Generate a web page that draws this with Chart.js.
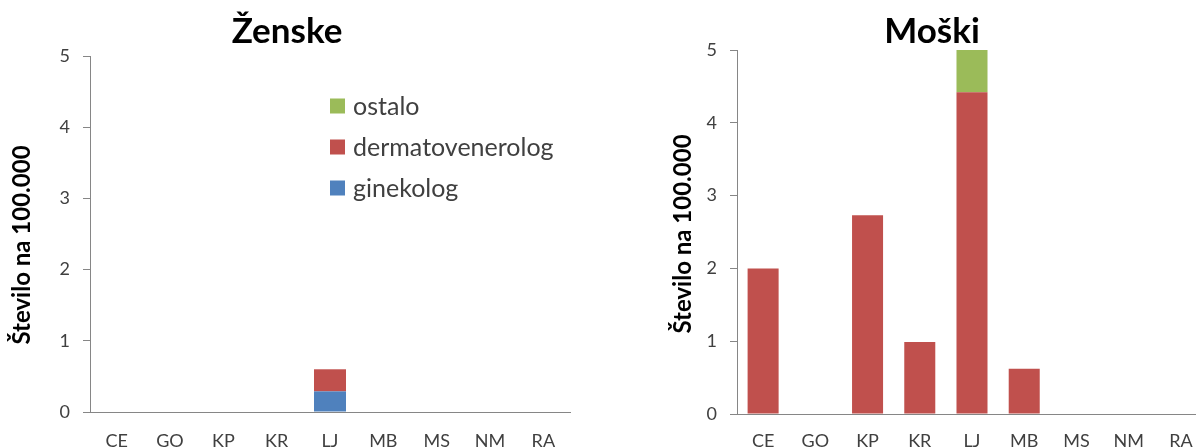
<!DOCTYPE html>
<html>
<head>
<meta charset="utf-8">
<script src="https://cdn.jsdelivr.net/npm/chart.js@4/dist/chart.umd.min.js"></script>
<style>
  html, body { margin: 0; padding: 0; background: #ffffff; }
  #wrap { position: relative; width: 1196px; height: 448px; overflow: hidden; background: #ffffff; }
  canvas { position: absolute; top: 0; }
  #zenske { left: 0; }
  #moski { left: 620px; }
</style>
</head>
<body>
<div id="wrap">
  <canvas id="zenske" width="600" height="448"></canvas>
  <canvas id="moski" width="620" height="448"></canvas>
</div>
<script>
// Regions (statistical regions of Slovenia)
const regions = ['CE', 'GO', 'KP', 'KR', 'LJ', 'MB', 'MS', 'NM', 'RA'];

// Rates per 100,000 – women
const zenskeGinekolog = [0, 0, 0, 0, 0.29, 0, 0, 0, 0];
const zenskeDermato   = [0, 0, 0, 0, 0.31, 0, 0, 0, 0];
const zenskeOstalo    = [0, 0, 0, 0, 0, 0, 0, 0, 0];

// Rates per 100,000 – men
const moskiGinekolog = [0, 0, 0, 0, 0, 0, 0, 0, 0];
const moskiDermato   = [2.0, 0, 2.73, 0.99, 4.42, 0.62, 0, 0, 0];
const moskiOstalo    = [0, 0, 0, 0, 0.58, 0, 0, 0, 0];

const seriesNames = ['ginekolog', 'dermatovenerolog', 'ostalo'];
const yTicks = [0, 1, 2, 3, 4, 5];
const yAxisTitle = 'Število na 100.000';

const COLORS = ['#4F81BD', '#C0504D', '#9BBB59'];
const AXIS_GRAY = '#868686';
const TEXT_GRAY = '#404040';
const FONT = 'Lato, "Liberation Sans", sans-serif';

// Draws the chart heading, rotated y-axis caption and (optionally) the legend
const captionPlugin = {
  id: 'captions',
  afterDraw(chart, args, opts) {
    const ctx = chart.ctx;
    ctx.save();
    // heading
    ctx.fillStyle = '#000000';
    ctx.font = 'bold ' + opts.titleSize + 'px ' + FONT;
    ctx.textAlign = 'center';
    ctx.textBaseline = 'alphabetic';
    ctx.fillText(opts.title, opts.titleX, opts.titleY);
    // y-axis caption
    ctx.save();
    ctx.translate(opts.yTitleX, opts.yTitleY);
    ctx.rotate(-Math.PI / 2);
    ctx.font = 'bold ' + opts.yTitleSize + 'px ' + FONT;
    ctx.textAlign = 'center';
    ctx.textBaseline = 'middle';
    ctx.fillText(yAxisTitle, 0, 0);
    ctx.restore();
    // legend, last series first
    if (opts.legend) {
      const lg = opts.legend;
      const ds = chart.data.datasets.slice().reverse();
      ctx.font = lg.size + 'px ' + FONT;
      ctx.textAlign = 'left';
      ctx.textBaseline = 'middle';
      ds.forEach((d, i) => {
        const cy = lg.y + i * lg.step;
        ctx.fillStyle = d.backgroundColor;
        ctx.fillRect(lg.x, cy - lg.box / 2, lg.box, lg.box);
        ctx.fillStyle = TEXT_GRAY;
        ctx.fillText(d.label, lg.x + lg.box + 8, cy + 1);
      });
    }
    ctx.restore();
  }
};

function makeChart(id, data, cfg) {
  const datasets = data.map((vals, i) => ({
    label: seriesNames[i],
    data: vals,
    backgroundColor: COLORS[i],
    borderWidth: 0,
    categoryPercentage: 1.0,
    barPercentage: cfg.barPct
  }));
  return new Chart(document.getElementById(id), {
    type: 'bar',
    data: { labels: regions, datasets },
    plugins: [captionPlugin],
    options: {
      responsive: false,
      animation: false,
      devicePixelRatio: 1,
      layout: { padding: { left: 0, right: cfg.padRight, top: cfg.padTop, bottom: 0 } },
      plugins: {
        legend: { display: false },
        tooltip: { enabled: false },
        title: { display: false },
        captions: cfg.captions
      },
      scales: {
        x: {
          stacked: true,
          grid: { display: false, drawTicks: false },
          border: { display: true, color: AXIS_GRAY, width: 1 },
          ticks: {
            color: TEXT_GRAY,
            font: { family: FONT, size: 18 },
            padding: cfg.xPad,
            maxRotation: 0,
            autoSkip: false
          },
          afterFit(scale) { scale.height = cfg.xHeight; }
        },
        y: {
          stacked: true,
          min: 0,
          max: 5,
          afterBuildTicks(scale) { scale.ticks = yTicks.map(v => ({ value: v })); },
          grid: {
            display: true,
            drawOnChartArea: false,
            drawTicks: true,
            tickLength: 7,
            color: AXIS_GRAY
          },
          border: { display: true, color: AXIS_GRAY, width: 1 },
          ticks: {
            color: TEXT_GRAY,
            font: { family: FONT, size: 18 },
            padding: 13
          },
          afterFit(scale) { scale.width = cfg.yWidth; }
        }
      }
    }
  });
}

makeChart('zenske', [zenskeGinekolog, zenskeDermato, zenskeOstalo], {
  barPct: 0.6,
  padRight: 30,
  padTop: 56,
  xHeight: 36,
  xPad: 18,
  yWidth: 90,
  captions: {
    title: 'Ženske', titleX: 287, titleY: 43, titleSize: 35,
    yTitleX: 22, yTitleY: 245, yTitleSize: 24,
    legend: { x: 330, y: 106, step: 41, box: 15, size: 25 }
  }
});

makeChart('moski', [moskiGinekolog, moskiDermato, moskiOstalo], {
  barPct: 0.594,
  padRight: 33,
  padTop: 50,
  xHeight: 34,
  xPad: 16,
  yWidth: 117,
  captions: {
    title: 'Moški', titleX: 312, titleY: 43, titleSize: 35,
    yTitleX: 63, yTitleY: 234, yTitleSize: 24,
    legend: null
  }
});
</script>
</body>
</html>
